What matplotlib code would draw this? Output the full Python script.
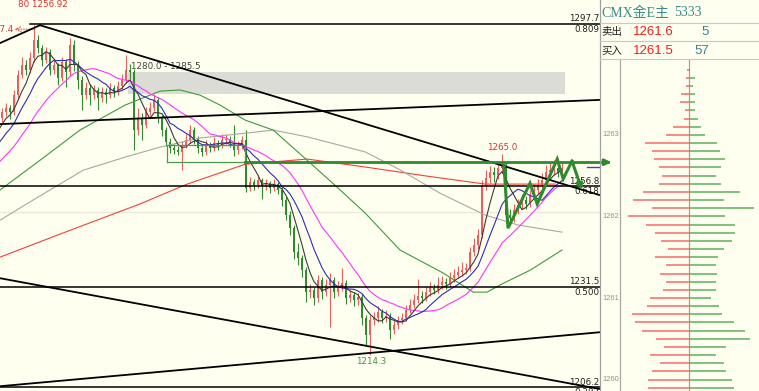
import matplotlib
matplotlib.use("Agg")
import matplotlib.pyplot as plt
import numpy as np
import pandas as pd

BG = '#FFFFF0'
UP = '#F25C5C'
DOWN = '#2E8B2E'

# candles: index -20..140 (first 20 are history to seed the moving averages)
first_open = 1253.0
closes = [
    1254.0, 1255.5, 1254.8, 1256.5, 1258.0, 1257.2, 1259.0, 1260.5, 1259.8, 1261.5,
    1263.0, 1262.4, 1264.5, 1266.0, 1265.2, 1267.5, 1269.0, 1271.0, 1272.5, 1274.0,
    1275.5, 1276.5, 1275.5, 1279.8, 1284.9, 1287.4, 1286.1, 1289.1, 1293.7, 1291.7,
    1288.6, 1290.6, 1286.1, 1287.4, 1284.1, 1288.1, 1285.6, 1292.4, 1287.4, 1283.6,
    1279.8, 1281.6, 1279.8, 1281.1, 1279.1, 1280.6, 1279.8, 1281.6, 1280.6, 1282.1,
    1283.6, 1286.1, 1285.6, 1271.0, 1274.0, 1272.3, 1275.5, 1276.5, 1278.6, 1274.0,
    1271.0, 1268.0, 1266.5, 1266.0, 1265.5, 1267.2, 1268.5, 1271.0, 1268.8, 1266.5,
    1265.5, 1267.2, 1266.5, 1267.7, 1267.0, 1268.5, 1268.8, 1267.7, 1266.0, 1267.0,
    1268.5, 1256.4, 1257.9, 1257.1, 1258.4, 1256.9, 1257.6, 1256.4, 1257.4, 1255.9,
    1253.4, 1249.6, 1246.3, 1240.3, 1238.8, 1235.7, 1230.2, 1230.7, 1228.7, 1233.2,
    1230.2, 1232.0, 1233.2, 1230.2, 1231.5, 1232.5, 1228.7, 1229.4, 1228.2, 1228.9,
    1223.6, 1219.4, 1223.1, 1223.6, 1225.2, 1223.6, 1224.2, 1220.6, 1221.9, 1223.1,
    1223.6, 1225.7, 1226.9, 1228.2, 1229.2, 1228.7, 1230.2, 1231.2, 1230.7, 1232.0,
    1232.7, 1232.2, 1233.7, 1234.5, 1235.2, 1235.7, 1236.2, 1240.3, 1242.0, 1244.6,
    1257.1, 1258.9, 1260.4, 1259.7, 1261.4, 1262.2, 1249.6, 1248.8, 1250.9, 1252.1,
    1253.4, 1252.4, 1254.6, 1255.9, 1257.1, 1258.4, 1260.4, 1260.9, 1261.4, 1260.4,
    1261.5,
]
highs = [
    1254.8, 1256.2, 1256.3, 1257.2, 1258.9, 1258.8, 1259.7, 1261.4, 1261.2, 1262.3,
    1263.8, 1263.9, 1265.2, 1266.9, 1266.8, 1268.3, 1269.8, 1271.9, 1273.4, 1274.9,
    1276.6, 1277.8, 1277.3, 1281.0, 1286.0, 1289.5, 1288.6, 1290.6, 1297.4, 1295.0,
    1292.5, 1292.0, 1291.3, 1288.9, 1288.0, 1289.4, 1289.0, 1294.2, 1293.7, 1288.3,
    1284.5, 1283.0, 1282.5, 1282.3, 1281.9, 1281.8, 1281.5, 1282.8, 1282.4, 1283.3,
    1285.0, 1289.9, 1287.6, 1286.4, 1276.6, 1275.2, 1276.8, 1278.0, 1280.1, 1279.3,
    1274.8, 1271.8, 1268.9, 1267.6, 1267.0, 1268.3, 1270.0, 1272.3, 1271.8, 1269.5,
    1267.3, 1268.4, 1268.0, 1269.3, 1268.6, 1270.1, 1270.0, 1269.6, 1272.3, 1268.2,
    1269.6, 1271.0, 1259.1, 1258.8, 1259.4, 1259.0, 1258.7, 1258.3, 1258.6, 1258.0,
    1256.6, 1254.1, 1250.5, 1247.0, 1242.5, 1239.6, 1236.4, 1232.3, 1231.6, 1234.6,
    1234.0, 1233.6, 1235.0, 1234.1, 1232.9, 1236.2, 1233.3, 1230.8, 1230.3, 1230.1,
    1229.6, 1224.5, 1224.4, 1225.3, 1226.7, 1226.0, 1225.6, 1225.0, 1223.2, 1224.3,
    1225.0, 1227.0, 1228.5, 1229.8, 1233.4, 1230.4, 1231.6, 1232.8, 1232.3, 1233.9,
    1234.2, 1233.8, 1235.2, 1236.1, 1236.8, 1237.9, 1237.6, 1241.6, 1243.8, 1246.0,
    1258.4, 1261.0, 1262.0, 1261.6, 1263.0, 1265.0, 1263.0, 1251.0, 1252.3, 1253.6,
    1254.8, 1254.3, 1256.0, 1257.4, 1258.7, 1260.1, 1262.2, 1262.6, 1263.5, 1262.3,
    1262.8,
]
lows = [
    1252.4, 1253.5, 1254.0, 1254.2, 1255.9, 1256.5, 1256.6, 1258.4, 1259.0, 1259.2,
    1260.8, 1261.6, 1261.9, 1263.8, 1264.4, 1264.6, 1266.9, 1268.3, 1270.2, 1271.6,
    1273.0, 1274.6, 1273.8, 1274.8, 1279.0, 1284.0, 1284.8, 1285.3, 1288.2, 1290.5,
    1287.2, 1287.8, 1284.9, 1285.0, 1282.3, 1283.4, 1281.8, 1284.5, 1285.9, 1281.4,
    1276.0, 1278.9, 1277.4, 1278.7, 1276.0, 1278.1, 1277.8, 1279.0, 1279.4, 1279.9,
    1281.2, 1282.8, 1283.9, 1266.0, 1269.8, 1268.5, 1271.4, 1274.6, 1275.8, 1272.8,
    1269.6, 1266.9, 1265.3, 1264.9, 1264.6, 1260.9, 1266.5, 1267.7, 1267.6, 1265.2,
    1264.4, 1264.8, 1265.6, 1265.8, 1266.1, 1266.4, 1267.5, 1266.8, 1264.5, 1265.1,
    1266.2, 1255.3, 1255.6, 1256.0, 1256.4, 1253.6, 1256.0, 1255.2, 1255.6, 1254.8,
    1251.9, 1248.3, 1244.6, 1238.6, 1236.9, 1234.0, 1227.7, 1228.6, 1226.9, 1227.8,
    1228.4, 1229.1, 1221.4, 1228.8, 1229.2, 1230.6, 1227.1, 1227.6, 1226.6, 1227.0,
    1222.0, 1216.9, 1214.3, 1221.8, 1222.6, 1222.3, 1222.7, 1218.5, 1219.6, 1220.9,
    1222.2, 1222.8, 1224.9, 1226.1, 1227.4, 1227.5, 1227.9, 1229.3, 1229.6, 1229.9,
    1231.0, 1230.9, 1231.4, 1232.8, 1233.7, 1234.3, 1234.8, 1235.5, 1239.2, 1241.1,
    1243.7, 1255.8, 1257.7, 1257.9, 1258.6, 1260.2, 1247.5, 1247.3, 1247.9, 1249.8,
    1251.2, 1251.0, 1251.6, 1253.8, 1255.0, 1256.3, 1257.6, 1259.3, 1259.8, 1259.1,
    1259.7,
]
start_index = -20

# long moving averages (index, price)
ma_green_x = [-0.5, 9.5, 19.5, 30.8, 39.5, 44.5, 49.5, 54.5, 60.8, 67.8, 76.3, 83.8, 90.8, 99.5, 110.3, 117.8, 121.3, 124.5, 132.0, 140.0]
ma_green_y = [1255.9, 1263.4, 1271.0, 1277.3, 1280.8, 1281.1, 1279.8, 1277.3, 1273.5, 1271.0, 1263.4, 1256.6, 1250.1, 1240.8, 1235.0, 1230.2, 1230.2, 1232.0, 1235.7, 1240.8]
ma_gray_x = [-0.5, 7.8, 20.3, 30.8, 39.5, 49.5, 60.8, 67.8, 76.3, 90.8, 99.5, 109.5, 120.8, 129.0, 140.0]
ma_gray_y = [1248.3, 1253.4, 1260.9, 1264.2, 1266.7, 1269.0, 1270.2, 1271.0, 1269.3, 1265.5, 1261.0, 1255.1, 1249.6, 1247.1, 1245.3]
ma_red_x = [-0.5, 14.5, 34.5, 46.3, 60.8, 76.3, 90.8, 106.3, 120.8, 138.3]
ma_red_y = [1239.0, 1244.8, 1252.4, 1257.4, 1262.4, 1263.7, 1261.7, 1259.4, 1257.4, 1257.4]

# fibonacci levels
fib_prices = [1297.7, 1256.8, 1231.5, 1206.2]
fib_labels = ['0.809', '0.618', '0.500', '0.382']
fib_start = [7.0, -0.5, -0.5, -0.5]

# hand drawn lines (index, price)
trend_lines = [
    ((9.5, 1297.4), (149.5, 1254.6)),
    ((-0.5, 1292.9), (9.5, 1297.4)),
    ((-0.5, 1272.5), (149.5, 1278.6)),
    ((-0.5, 1233.7), (149.5, 1205.8)),
    ((-0.5, 1206.5), (149.5, 1220.1)),
]
zig_x = [125.5, 126.5, 132.0, 133.8, 138.8, 140.3, 142.5, 145.0]
zig_y = [1262.2, 1246.3, 1257.6, 1252.4, 1263.7, 1258.7, 1263.2, 1255.9]
res_level = 1262.9
zone_lo, zone_hi = 1280.0, 1285.5
box_lo, box_hi = 1263.0, 1267.2

# order book
book_prices = [round(1263.8 - 0.1 * k, 1) for k in range(40)]
bid_vol = [2, 3, 3, 8, 9, 4, 5, 16, 23, 44, 37, 35, 30, 27, 30, 46, 56, 37, 61, 43,
           34, 28, 21, 34, 23, 29, 23, 26, 39, 42, 57, 54, 47, 33, 25, 39, 29, 37, 41, 41]
ask_vol = [1, 6, 4, 6, 6, 6, 9, 12, 16, 28, 31, 36, 32, 27, 32, 51, 35, 65, 36, 46,
           46, 43, 35, 29, 27, 28, 27, 27, 22, 30, 33, 45, 56, 61, 37, 27, 35, 37, 43, 45]
book_ticks = [1263, 1262, 1261, 1260]

W, H = 759, 391
fig = plt.figure(figsize=(W / 100, H / 100), dpi=100, facecolor=BG)
ax = fig.add_axes([0, 0, 600 / W, 1])
ax.set_facecolor(BG)
ax.set_xlim(-0.5, 149.5)
ax.set_ylim(1205.3, 1303.75)
ax.axis('off')

idx = np.arange(start_index, start_index + len(closes))
c = np.array(closes)
o = np.concatenate([[first_open], c[:-1]])
hi = np.array(highs)
lo = np.array(lows)
cols = [UP if cc >= oo else DOWN for oo, cc in zip(o, c)]

# background drawings
ax.axhline(1250.3, color='#EAEADA', lw=1.0, zorder=0)
ax.fill_between([31.5, 140.75], zone_lo, zone_hi, color='#DCDCD6', lw=0, zorder=0)
ax.text(32.3, zone_hi + 0.3, '1280.0 - 1285.5', fontsize=6.3, color='#404040', va='bottom', ha='left')

# candles
ax.vlines(idx, lo, hi, colors=cols, lw=0.8, zorder=2)
body = np.where(np.abs(c - o) < 0.15, 0.15, c - o)
ax.bar(idx, body, bottom=o, width=0.7, color=cols, lw=0, zorder=2)

# moving averages
s = pd.Series(c, index=idx)
ax.plot(ma_red_x, ma_red_y, color='#F04040', lw=0.8, zorder=3)
ax.plot(ma_gray_x, ma_gray_y, color='#A8A8A0', lw=0.8, zorder=3)
ax.plot(ma_green_x, ma_green_y, color='#3C9A3C', lw=0.8, zorder=3)
ax.plot(idx, s.rolling(20).mean(), color='#FF33FF', lw=0.8, zorder=3)
ax.plot(idx, s.rolling(10).mean(), color='#2B2BC0', lw=0.8, zorder=3)
ax.plot(idx, s.rolling(5).mean(), color='#3A3A3A', lw=0.8, zorder=3)

# fibonacci lines and labels
for p, lab, x0 in zip(fib_prices, fib_labels, fib_start):
    ax.plot([x0, 149.5], [p, p], color='black', lw=1.1, zorder=4)
    ax.annotate(f'{p:.1f}', xy=(149.3, p), xytext=(0, 0.5), textcoords='offset points',
                ha='right', va='bottom', fontsize=6.3, color='#202020')
    ax.annotate(lab, xy=(149.3, p), xytext=(0, -0.5), textcoords='offset points',
                ha='right', va='top', fontsize=6.3, color='#202020')

for (x0, y0), (x1, y1) in trend_lines:
    ax.plot([x0, x1], [y0, y1], color='black', lw=1.3, zorder=4)

# green resistance box and line
ax.plot([41.25, 60.75, 60.75, 41.25, 41.25], [box_lo, box_lo, box_hi, box_hi, box_lo],
        color='#4C9A4C', lw=0.9, zorder=4)
ax.plot([60.75, 151.5], [res_level, res_level], color='#2F8A2F', lw=2.0, zorder=5, clip_on=False)
ax.annotate('', xy=(153.0, res_level), xytext=(150.0, res_level), annotation_clip=False,
            arrowprops=dict(arrowstyle='-|>', color='#2F8A2F', lw=2.0, mutation_scale=9))

# zigzag
ax.plot(zig_x[:-1], zig_y[:-1], color='#2F8A2F', lw=2.2, zorder=5, solid_joinstyle='miter')
ax.annotate('', xy=(zig_x[-1], zig_y[-1]), xytext=(zig_x[-2], zig_y[-2]),
            arrowprops=dict(arrowstyle='-|>', color='#2F8A2F', lw=2.2, mutation_scale=8,
                            shrinkA=0, shrinkB=0), zorder=5)
ax.plot([146.3, 149.5], [1261.7, 1261.7], color='#4040B0', lw=1.0, zorder=5)

# price marks
ax.text(125.0, 1265.6, '1265.0', fontsize=6.3, color='#E03030', ha='center', va='bottom')
ax.text(92.3, 1213.9, '1214.3', fontsize=6.3, color='#3C963C', ha='center', va='top')
ax.text(16.5, 1302.7, '80 1256.92', fontsize=6.3, color='#E03030', ha='right', va='center')
ax.text(2.8, 1296.4, '1297.4', fontsize=6.3, color='#E03030', ha='right', va='center')
ax.annotate('', xy=(3.2, 1296.4), xytext=(8.2, 1296.4),
            arrowprops=dict(arrowstyle='->', color='#E03030', lw=0.7, ls=':', shrinkA=0, shrinkB=0))

# order book panel
bx = fig.add_axes([620 / W, 0, 139 / W, (H - 59) / H])
bx.set_facecolor(BG)
bx.set_xlim(-69, 70)
bx.set_ylim(1259.86, 1263.93)
bx.axis('off')
bx.axvline(0, color='#A0A0A0', lw=0.9)
bx.hlines(book_prices, [-v for v in bid_vol], 0, colors='#F86A6A', lw=1.1)
bx.hlines(book_prices, 0, ask_vol, colors='#5FAD5F', lw=1.1)
for t in book_ticks:
    bx.text(-70, t, str(t), fontsize=5.4, color='#909090', ha='right', va='center',
            family='Liberation Sans')

# panel frame and header (pixel coordinates)
ov = fig.add_axes([0, 0, 1, 1])
ov.set_xlim(0, W)
ov.set_ylim(H, 0)
ov.axis('off')
ov.patch.set_alpha(0)
ov.plot([600, 600], [0, H], color='#A0A0A0', lw=0.9)
ov.plot([620, 620], [59, H], color='#A8A8A8', lw=0.9)
for yy in (23, 41, 59):
    ov.plot([600, W], [yy, yy], color='#C8C8C8', lw=0.8)
ov.text(601, 13, 'CMX金E主', fontsize=10, color='#3D8B8B', va='center', ha='left',
        family=['Liberation Serif', 'Noto Sans CJK SC'])
ov.text(674, 13, '5333', fontsize=10, color='#3D8B8B', va='center', ha='left',
        family='Liberation Serif')
ov.text(601, 32, '卖出', fontsize=7.5, color='#202020', va='center', ha='left',
        family=['Noto Sans CJK SC'])
ov.text(601, 51, '买入', fontsize=7.5, color='#202020', va='center', ha='left',
        family=['Noto Sans CJK SC'])
ov.text(633, 32, '1261.6', fontsize=9.5, color='#F02020', va='center', ha='left',
        family='Liberation Sans')
ov.text(633, 51, '1261.5', fontsize=9.5, color='#F02020', va='center', ha='left',
        family='Liberation Sans')
ov.text(709, 32, '5', fontsize=9.5, color='#3D7F8F', va='center', ha='right',
        family='Liberation Sans')
ov.text(709, 51, '57', fontsize=9.5, color='#3D7F8F', va='center', ha='right',
        family='Liberation Sans')

fig.savefig('out.png', dpi=100, facecolor=BG)
